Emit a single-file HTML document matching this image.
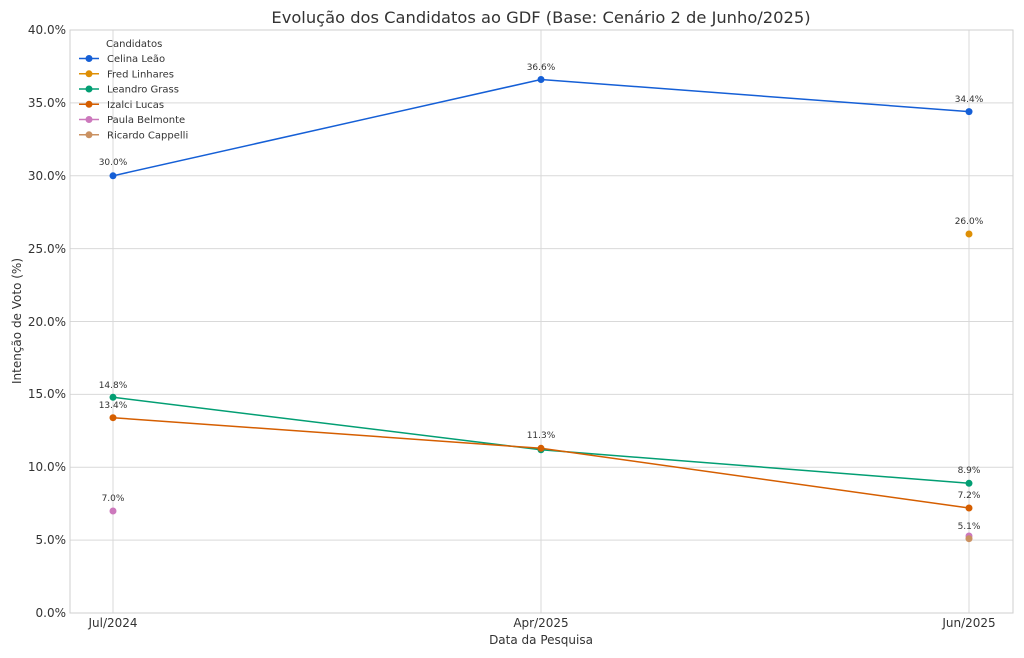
<!DOCTYPE html>
<html><head><meta charset="utf-8"><style>body{margin:0;background:#fff}svg{display:block;font-family:"DejaVu Sans","Liberation Sans",sans-serif}</style></head><body>
<svg width="1024" height="658" viewBox="0 0 1024 658">
<rect width="1024" height="658" fill="#fff"/>
<g stroke="#d9d9d9" stroke-width="1">
<line x1="70" y1="540.1" x2="1013" y2="540.1"/><line x1="70" y1="467.3" x2="1013" y2="467.3"/><line x1="70" y1="394.4" x2="1013" y2="394.4"/><line x1="70" y1="321.5" x2="1013" y2="321.5"/><line x1="70" y1="248.6" x2="1013" y2="248.6"/><line x1="70" y1="175.8" x2="1013" y2="175.8"/><line x1="70" y1="102.9" x2="1013" y2="102.9"/>
<line x1="113" y1="30" x2="113" y2="613"/><line x1="541" y1="30" x2="541" y2="613"/><line x1="969" y1="30" x2="969" y2="613"/>
</g>
<rect x="70" y="30" width="943" height="583" fill="none" stroke="#cfcfcf"/>
<g font-size="12" fill="#333" text-anchor="end">
<text x="66" y="617">0.0%</text><text x="66" y="544">5.0%</text><text x="66" y="471">10.0%</text><text x="66" y="398">15.0%</text><text x="66" y="326">20.0%</text><text x="66" y="253">25.0%</text><text x="66" y="180">30.0%</text><text x="66" y="107">35.0%</text><text x="66" y="34">40.0%</text>
</g>
<g font-size="12" fill="#333" text-anchor="middle">
<text x="113" y="627">Jul/2024</text><text x="541" y="627">Apr/2025</text><text x="969" y="627">Jun/2025</text>
<text x="541" y="644">Data da Pesquisa</text>
<text x="541" y="23" font-size="16.3">Evolução dos Candidatos ao GDF (Base: Cenário 2 de Junho/2025)</text>
</g>
<text transform="translate(21,321) rotate(-90)" font-size="12" fill="#333" text-anchor="middle">Intenção de Voto (%)</text>
<g fill="none" stroke-width="1.5">
<polyline points="113,175.8 541,79.5 969,111.6" stroke="#155fd6"/>
<polyline points="113,397.3 541,449.8 969,483.3" stroke="#029e73"/>
<polyline points="113,417.7 541,448.3 969,508" stroke="#d55e00"/>
</g>
<g>
<circle cx="113" cy="175.8" r="3.5" fill="#155fd6"/><circle cx="541" cy="79.5" r="3.5" fill="#155fd6"/><circle cx="969" cy="111.6" r="3.5" fill="#155fd6"/>
<circle cx="969" cy="234" r="3.5" fill="#de8f05"/>
<circle cx="113" cy="397.3" r="3.5" fill="#029e73"/><circle cx="541" cy="449.8" r="3.5" fill="#029e73"/><circle cx="969" cy="483.3" r="3.5" fill="#029e73"/>
<circle cx="113" cy="417.7" r="3.5" fill="#d55e00"/><circle cx="541" cy="448.3" r="3.5" fill="#d55e00"/><circle cx="969" cy="508" r="3.5" fill="#d55e00"/>
<circle cx="113" cy="511" r="3.5" fill="#cc78bc"/><circle cx="969" cy="536" r="3.5" fill="#cc78bc"/>
<circle cx="969" cy="538.7" r="3.5" fill="#ca9161"/>
</g>
<g font-size="9" fill="#333" text-anchor="middle">
<text x="113" y="165">30.0%</text><text x="541" y="70">36.6%</text><text x="969" y="102">34.4%</text>
<text x="969" y="224">26.0%</text>
<text x="113" y="388">14.8%</text><text x="113" y="408">13.4%</text><text x="541" y="438">11.3%</text>
<text x="969" y="473">8.9%</text><text x="969" y="498">7.2%</text><text x="969" y="529">5.1%</text>
<text x="113" y="501">7.0%</text>
</g>
<g font-size="10" fill="#333">
<text x="106" y="47">Candidatos</text>
<line x1="79" y1="58.5" x2="99" y2="58.5" stroke="#155fd6" stroke-width="1.5"/><circle cx="89" cy="58.5" r="3.5" fill="#155fd6"/><text x="107" y="62">Celina Leão</text>
<line x1="79" y1="73.8" x2="99" y2="73.8" stroke="#de8f05" stroke-width="1.5"/><circle cx="89" cy="73.8" r="3.5" fill="#de8f05"/><text x="107" y="77.3">Fred Linhares</text>
<line x1="79" y1="89" x2="99" y2="89" stroke="#029e73" stroke-width="1.5"/><circle cx="89" cy="89" r="3.5" fill="#029e73"/><text x="107" y="92.5">Leandro Grass</text>
<line x1="79" y1="104.3" x2="99" y2="104.3" stroke="#d55e00" stroke-width="1.5"/><circle cx="89" cy="104.3" r="3.5" fill="#d55e00"/><text x="107" y="107.8">Izalci Lucas</text>
<line x1="79" y1="119.5" x2="99" y2="119.5" stroke="#cc78bc" stroke-width="1.5"/><circle cx="89" cy="119.5" r="3.5" fill="#cc78bc"/><text x="107" y="123">Paula Belmonte</text>
<line x1="79" y1="134.8" x2="99" y2="134.8" stroke="#ca9161" stroke-width="1.5"/><circle cx="89" cy="134.8" r="3.5" fill="#ca9161"/><text x="107" y="138.3">Ricardo Cappelli</text>
</g>
</svg>
</body></html>
